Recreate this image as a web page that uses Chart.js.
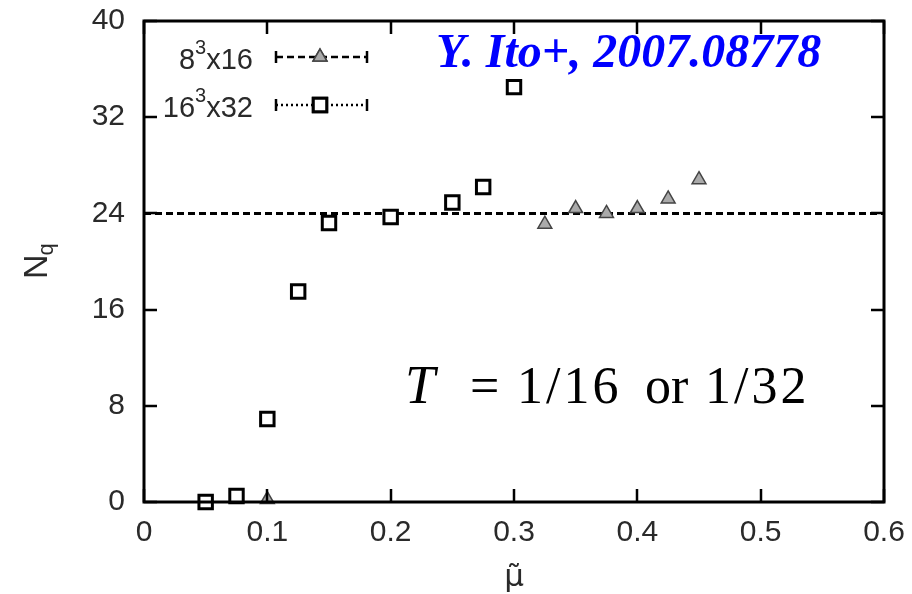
<!DOCTYPE html>
<html>
<head>
<meta charset="utf-8">
<script src="https://cdn.jsdelivr.net/npm/chart.js@4"></script>
<style>
  html, body { margin: 0; padding: 0; background: #fff; }
  #wrap { width: 912px; height: 594px; }
</style>
</head>
<body>
<div id="wrap"><canvas id="myChart"></canvas></div>
<script>
// 8^3x16 lattice (triangles)
const muSmall = [0.1, 0.325, 0.35, 0.375, 0.4, 0.425, 0.45];
const nqSmall = [0.2, 23.1, 24.4, 24.0, 24.4, 25.2, 26.8];

// 16^3x32 lattice (squares)
const muLarge = [0.05, 0.075, 0.1, 0.125, 0.15, 0.2, 0.25, 0.275, 0.3];
const nqLarge = [0.0, 0.5, 6.9, 17.5, 23.2, 23.7, 24.9, 26.2, 34.5];

// horizontal reference line at N_q = 24
const refMu = [0, 0.6];
const refNq = [24, 24];

const seriesNames = ['8\u00B3x16', '16\u00B3x32'];
const xTickLabels = ['0', '0.1', '0.2', '0.3', '0.4', '0.5', '0.6'];
const yTickLabels = ['0', '8', '16', '24', '32', '40'];

const toXY = (xs, ys) => xs.map((v, i) => ({x: v, y: ys[i]}));

const tickFont = {family: "'Liberation Sans', Arial, sans-serif", size: 30};
const labelColor = '#2a2a2a';

// frame with inward ticks on all four sides
const framePlugin = {
    id: 'frame',
    afterDatasetsDraw(chart) {
        const {ctx, chartArea: a, scales: {x, y}} = chart;
        const tl = 13;
        ctx.save();
        ctx.strokeStyle = '#000';
        ctx.lineWidth = 2.5;
        ctx.beginPath();
        x.ticks.forEach(t => {
            const px = Math.round(x.getPixelForValue(t.value));
            ctx.moveTo(px, a.bottom); ctx.lineTo(px, a.bottom - tl);
            ctx.moveTo(px, a.top); ctx.lineTo(px, a.top + tl);
        });
        y.ticks.forEach(t => {
            const py = Math.round(y.getPixelForValue(t.value));
            ctx.moveTo(a.left, py); ctx.lineTo(a.left + tl, py);
            ctx.moveTo(a.right, py); ctx.lineTo(a.right - tl, py);
        });
        ctx.stroke();
        ctx.lineWidth = 3;
        ctx.strokeRect(a.left, a.top, a.right - a.left, a.bottom - a.top);
        ctx.restore();
    }
};

// draw "16³x32" style text with a raised small exponent, right aligned
function drawPowerLabel(ctx, text, right, baseline) {
    const sans = "'Liberation Sans', Arial, sans-serif";
    const [base, rest] = text.split('\u00B3');
    ctx.font = '29px ' + sans;
    const w1 = ctx.measureText(base).width;
    const w3 = ctx.measureText(rest).width;
    ctx.font = '20px ' + sans;
    const w2 = ctx.measureText('3').width;
    let x0 = right - (w1 + w2 + w3);
    ctx.textAlign = 'left';
    ctx.textBaseline = 'alphabetic';
    ctx.font = '29px ' + sans;
    ctx.fillText(base, x0, baseline);
    ctx.font = '20px ' + sans;
    ctx.fillText('3', x0 + w1, baseline - 15);
    ctx.font = '29px ' + sans;
    ctx.fillText(rest, x0 + w1 + w2, baseline);
}

// titles, legend and annotations
const textPlugin = {
    id: 'texts',
    afterDraw(chart) {
        const {ctx, chartArea: a} = chart;
        const sans = "'Liberation Sans', Arial, sans-serif";
        const serif = "'Liberation Serif', 'Times New Roman', serif";
        ctx.save();
        ctx.fillStyle = labelColor;

        // y title N_q (rotated)
        ctx.save();
        ctx.translate(47, 279);
        ctx.rotate(-Math.PI / 2);
        ctx.textAlign = 'left';
        ctx.textBaseline = 'alphabetic';
        ctx.font = '34px ' + sans;
        ctx.fillText('N', 0, 0);
        const wN = ctx.measureText('N').width;
        ctx.font = '22px ' + sans;
        ctx.fillText('q', wN - 1, 6);
        ctx.restore();

        // x title mu-tilde
        ctx.font = "31px 'DejaVu Sans', sans-serif";
        ctx.textAlign = 'center';
        ctx.textBaseline = 'alphabetic';
        ctx.fillText('\u03BC\u0303', (a.left + a.right) / 2, 586);

        // legend
        const ds = chart.data.datasets;
        const rows = [{idx: 0, y: 57, dash: [7, 4]}, {idx: 1, y: 105, dash: [2, 3]}];
        rows.forEach(r => {
            const d = ds[r.idx];
            ctx.fillStyle = labelColor;
            drawPowerLabel(ctx, d.label, 253, r.y + 12);
            ctx.strokeStyle = '#000';
            ctx.lineWidth = 2.5;
            ctx.setLineDash(r.dash);
            ctx.beginPath();
            ctx.moveTo(276, r.y); ctx.lineTo(367, r.y);
            ctx.stroke();
            ctx.setLineDash([]);
            ctx.beginPath();
            ctx.moveTo(276, r.y - 6); ctx.lineTo(276, r.y + 6);
            ctx.moveTo(367, r.y - 6); ctx.lineTo(367, r.y + 6);
            ctx.stroke();
            ctx.fillStyle = d.pointBackgroundColor;
            ctx.strokeStyle = d.pointBorderColor;
            ctx.lineWidth = d.pointBorderWidth;
            Chart.helpers.drawPoint(ctx, {pointStyle: d.pointStyle, radius: d.pointRadius, rotation: 0, borderWidth: d.pointBorderWidth}, 320, r.y);
            ctx.fill();
            ctx.stroke();
        });

        // citation
        ctx.fillStyle = '#0000ff';
        ctx.font = 'italic bold 48px ' + serif;
        ctx.textAlign = 'left';
        ctx.textBaseline = 'alphabetic';
        ctx.fillText('Y. Ito+, 2007.08778', 436, 67);

        // temperature label, spaced like TeX math
        ctx.fillStyle = '#000';
        ctx.font = 'italic 54px ' + serif;
        ctx.fillText('T', 405, 403);
        ctx.font = '52px ' + serif;
        ctx.fillText('=', 470, 403);
        ctx.letterSpacing = '3px';
        ctx.fillText('1/16', 517, 403);
        ctx.fillText('1/32', 705, 403);
        ctx.letterSpacing = '0px';
        ctx.fillText('or', 645, 403);
        ctx.restore();
    }
};

new Chart(document.getElementById('myChart'), {
    type: 'scatter',
    data: {
        datasets: [{
            label: seriesNames[0],
            data: toXY(muSmall, nqSmall),
            pointStyle: 'triangle',
            pointRadius: 8,
            pointBorderWidth: 1.5,
            pointBorderColor: '#444',
            pointBackgroundColor: '#aaa',
            showLine: false,
            clip: false
        }, {
            label: seriesNames[1],
            data: toXY(muLarge, nqLarge),
            pointStyle: 'rect',
            pointRadius: 9.5,
            pointBorderWidth: 3,
            pointBorderColor: '#000',
            pointBackgroundColor: '#fff',
            showLine: false,
            clip: false
        }, {
            type: 'line',
            label: 'ref',
            data: toXY(refMu, refNq),
            borderColor: '#000',
            borderWidth: 3,
            borderDash: [7, 4],
            pointRadius: 0,
            fill: false
        }]
    },
    options: {
        responsive: true,
        maintainAspectRatio: false,
        animation: false,
        layout: { padding: {left: 0, top: 21, right: 28, bottom: 0} },
        plugins: {
            legend: { display: false },
            tooltip: { enabled: false }
        },
        scales: {
            x: {
                type: 'linear',
                min: 0,
                max: 0.6,
                grid: { display: false, drawTicks: false },
                border: { display: false },
                ticks: {
                    stepSize: 0.1,
                    padding: 13,
                    color: labelColor,
                    font: tickFont,
                    maxRotation: 0,
                    callback: (v, i) => xTickLabels[i]
                },
                afterFit: s => { s.height = 92; s.paddingLeft = 0; s.paddingRight = 0; }
            },
            y: {
                min: 0,
                max: 40,
                grid: { display: false, drawTicks: false },
                border: { display: false },
                ticks: {
                    stepSize: 8,
                    padding: 19,
                    color: labelColor,
                    font: tickFont,
                    callback: (v, i) => yTickLabels[i]
                },
                afterFit: s => { s.width = 144; s.paddingTop = 0; s.paddingBottom = 0; }
            }
        }
    },
    plugins: [framePlugin, textPlugin]
});
</script>
</body>
</html>
